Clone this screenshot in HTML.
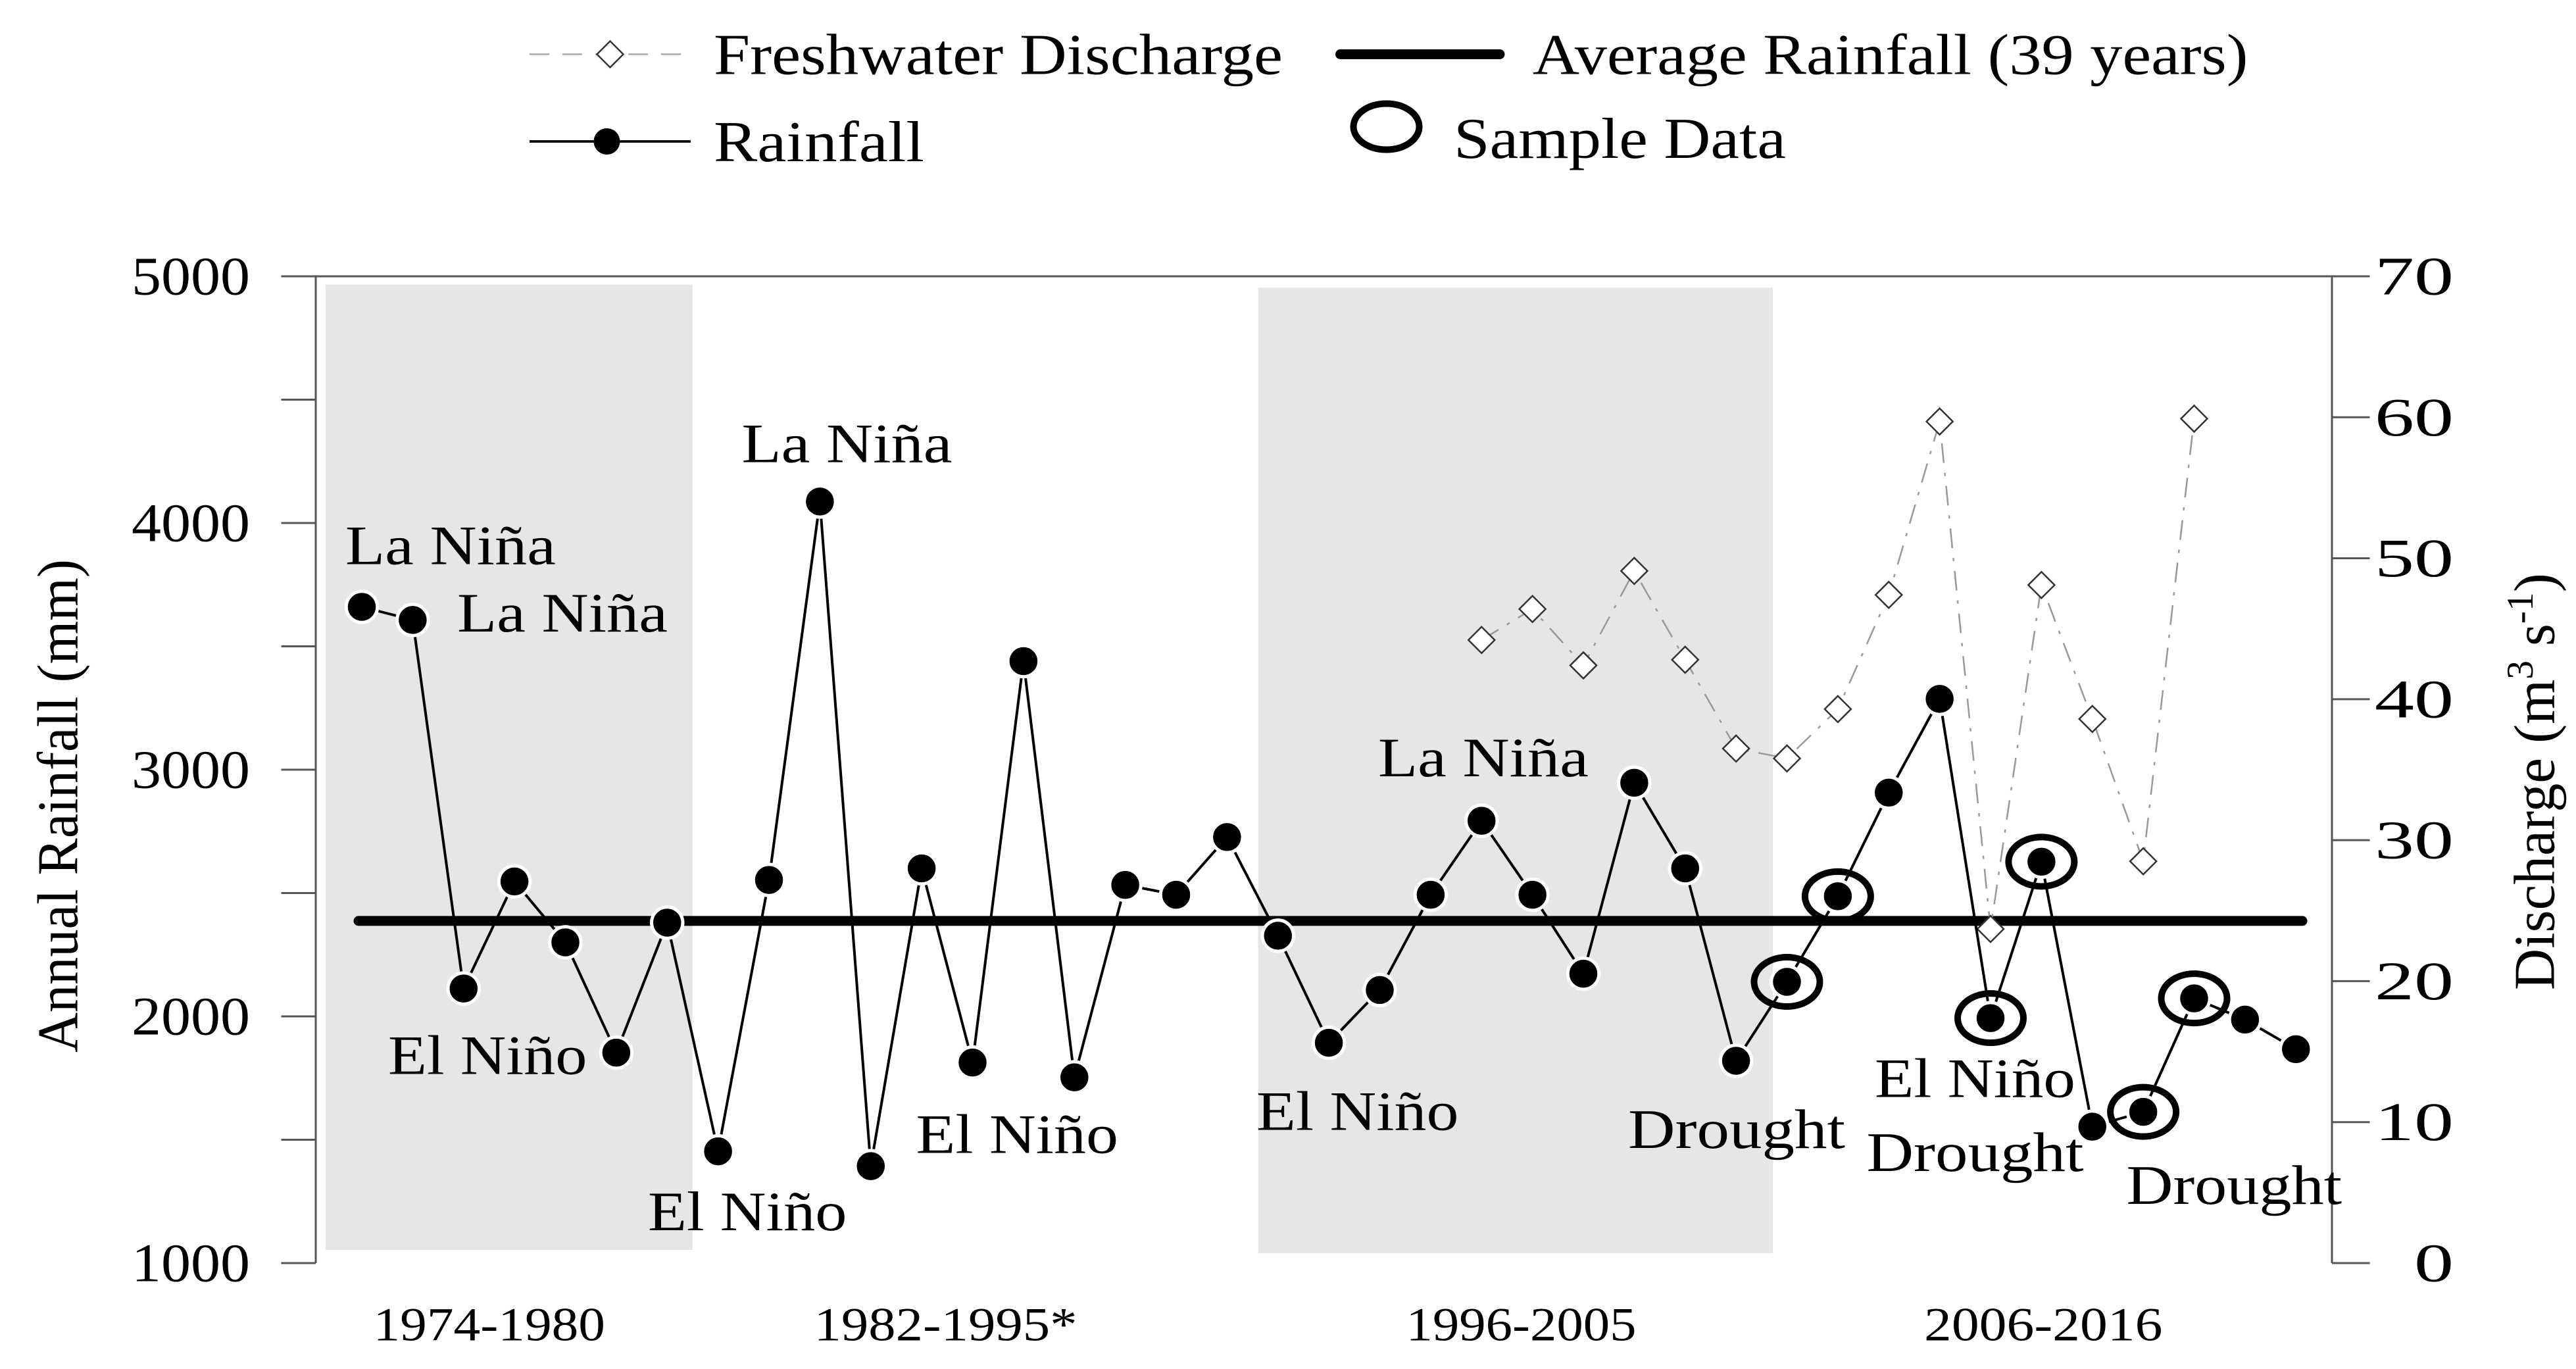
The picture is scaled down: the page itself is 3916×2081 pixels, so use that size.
<!DOCTYPE html>
<html><head><meta charset="utf-8"><style>
html,body{margin:0;padding:0;background:#fff}
svg{display:block}
text{font-family:"Liberation Serif",serif;fill:#000}
</style></head><body>
<svg id="chart" width="3916" height="2081" viewBox="0 0 1566.4 832.4" xmlns="http://www.w3.org/2000/svg">
<g id="shade">
<rect x="198" y="173" width="223" height="587" fill="#e6e6e6"/>
<rect x="765" y="175" width="313" height="587" fill="#e6e6e6"/>
</g>
<g id="axes" stroke="#555" stroke-width="1.2">
<line x1="192" y1="168" x2="192" y2="768"/>
<line x1="1418" y1="168" x2="1418" y2="768"/>
<line x1="192" y1="168" x2="1418" y2="168"/>
</g>
<g id="leftTicks"></g>
<g id="rightTicks"></g>
<g id="avg"></g>
<g id="disc"></g>
<g id="rain"></g>
<g id="samples"></g>
<g id="annotations" font-size="34">
<text x="210" y="343" textLength="128" lengthAdjust="spacingAndGlyphs">La Niña</text>
<text x="278" y="384" textLength="128" lengthAdjust="spacingAndGlyphs">La Niña</text>
<text x="236" y="653" textLength="121" lengthAdjust="spacingAndGlyphs">El Niño</text>
<text x="394" y="748" textLength="121" lengthAdjust="spacingAndGlyphs">El Niño</text>
<text x="451" y="281" textLength="128" lengthAdjust="spacingAndGlyphs">La Niña</text>
<text x="557" y="701" textLength="123" lengthAdjust="spacingAndGlyphs">El Niño</text>
<text x="764" y="687" textLength="123" lengthAdjust="spacingAndGlyphs">El Niño</text>
<text x="838" y="472" textLength="128" lengthAdjust="spacingAndGlyphs">La Niña</text>
<text x="990" y="698" textLength="132" lengthAdjust="spacingAndGlyphs">Drought</text>
<text x="1140" y="667" textLength="122" lengthAdjust="spacingAndGlyphs">El Niño</text>
<text x="1135" y="712" textLength="132" lengthAdjust="spacingAndGlyphs">Drought</text>
<text x="1293" y="732" textLength="131" lengthAdjust="spacingAndGlyphs">Drought</text>
</g>
<g id="period-labels" font-size="29">
<text x="227" y="815" textLength="141" lengthAdjust="spacingAndGlyphs">1974-1980</text>
<text x="495" y="815" textLength="160" lengthAdjust="spacingAndGlyphs">1982-1995*</text>
<text x="855" y="815" textLength="140" lengthAdjust="spacingAndGlyphs">1996-2005</text>
<text x="1170" y="815" textLength="145" lengthAdjust="spacingAndGlyphs">2006-2016</text>
</g>
<text font-size="35" transform="translate(47,640) rotate(-90)" textLength="300" lengthAdjust="spacingAndGlyphs">Annual Rainfall (mm)</text>
<text font-size="35" transform="translate(1553,602) rotate(-90)">Discharge (m<tspan font-size="23" dy="-13">3</tspan><tspan dy="13"> s</tspan><tspan font-size="23" dy="-13">-1</tspan><tspan dy="13">)</tspan></text>
<g id="legend" font-size="35">
<g>
<line x1="322" y1="33" x2="420" y2="33" stroke="#aaa" stroke-width="1" stroke-dasharray="12,8"/>
<path d="M371 25 L379 33 L371 41 L363 33 Z" fill="#fff" stroke="#333" stroke-width="1"/>
<text x="434" y="45" textLength="346" lengthAdjust="spacingAndGlyphs">Freshwater Discharge</text>
</g>
<g>
<line x1="322" y1="86" x2="420" y2="86" stroke="#000" stroke-width="1.5"/>
<circle cx="369" cy="86" r="8" fill="#000"/>
<text x="434" y="98" textLength="128" lengthAdjust="spacingAndGlyphs">Rainfall</text>
</g>
<g>
<line x1="815" y1="33" x2="912" y2="33" stroke="#000" stroke-width="6" stroke-linecap="round"/>
<text x="932" y="45" textLength="435" lengthAdjust="spacingAndGlyphs">Average Rainfall (39 years)</text>
</g>
<g>
<ellipse cx="843" cy="77" rx="20" ry="14" fill="none" stroke="#000" stroke-width="4"/>
<text x="884" y="96" textLength="202" lengthAdjust="spacingAndGlyphs">Sample Data</text>
</g>
</g>
</svg>
<script>
const rainfall = [3660,3607,2113,2547,2300,1853,2380,1453,2553,4087,1393,2600,1813,3440,1753,2533,2493,2727,2327,1893,2107,2493,2793,2493,2173,2947,2600,1820,2140,2487,2907,3287,1993,2627,1553,1613,2073,1987,1867];
const dischargeIdx = [22,23,24,25,26,27,28,29,30,31,32,33,34,35,36];
const discharge = [44.2,46.4,42.4,49.1,42.8,36.5,35.8,39.3,47.4,59.7,23.7,48.1,38.6,28.5,59.9];
const sampleIdx = [28,29,32,33,35,36];
const avgRainfall = 2387;
const leftTicks = [1000,2000,3000,4000,5000];
const leftMinor = [1500,2500,3500,4500];
const rightTicks = [0,10,20,30,40,50,60,70];

const NS="http://www.w3.org/2000/svg";
const X0=220, DX=30.95, Y0=768, Y1=168;
const xs=i=>X0+i*DX;
const yL=v=>Y0-(v-1000)/4000*(Y0-Y1);
const yR=v=>Y0-v/70*(Y0-Y1);
function mk(tag,attrs,parent){const e=document.createElementNS(NS,tag);for(const k in attrs)e.setAttribute(k,attrs[k]);parent.appendChild(e);return e;}

const lt=document.getElementById('leftTicks');


leftTicks.concat(leftMinor).forEach(v=>{
  const l=mk('line',{x1:171,x2:192,y1:yL(v),y2:yL(v),stroke:'#555','stroke-width':1.2},lt);
  
  
});
leftTicks.forEach(v=>{
  const t=mk('text',{x:80,y:yL(v)+11,'font-size':33,textLength:72,lengthAdjust:'spacingAndGlyphs'},lt);
  t.textContent=v;
  
  
});
const rt=document.getElementById('rightTicks');


rightTicks.forEach(v=>{
  const l=mk('line',{x1:1418,x2:1441,y1:yR(v),y2:yR(v),stroke:'#555','stroke-width':1.2},rt);
  
  
  const s=String(v);
  const w=s.length*24;
  const t=mk('text',{x:1492-w,y:yR(v)+11,'font-size':33,textLength:w,lengthAdjust:'spacingAndGlyphs'},rt);
  t.textContent=s;
  
  
});

const av=document.getElementById('avg');
const al=mk('line',{x1:218,x2:1400,y1:yL(avgRainfall),y2:yL(avgRainfall),stroke:'#000','stroke-width':6,'stroke-linecap':'round'},av);



const dg=document.getElementById('disc');


const dp=mk('polyline',{points:discharge.map((v,k)=>xs(dischargeIdx[k])+','+yR(v)).join(' '),fill:'none',stroke:'#999','stroke-width':1,'stroke-dasharray':'12,6,2,6'},dg);


discharge.forEach((v,k)=>{
  const x=xs(dischargeIdx[k]),y=yR(v);
  const p=mk('path',{d:`M${x} ${y-8} L${x+8} ${y} L${x} ${y+8} L${x-8} ${y} Z`,fill:'#fff',stroke:'#333','stroke-width':1},dg);
  
  
});

const rg=document.getElementById('rain');


const rp=mk('polyline',{points:rainfall.map((v,i)=>xs(i)+','+yL(v)).join(' '),fill:'none',stroke:'#000','stroke-width':1.6},rg);


rainfall.forEach((v,i)=>{
  const c=mk('circle',{cx:xs(i),cy:yL(v),r:9.5,fill:'#000',stroke:'#fff','stroke-width':2},rg);
  
  
});

const sg=document.getElementById('samples');


sampleIdx.forEach(i=>{
  const e=mk('ellipse',{cx:xs(i),cy:yL(rainfall[i]),rx:20,ry:15,fill:'none',stroke:'#000','stroke-width':4},sg);
  
  
});
</script>
</body></html>
